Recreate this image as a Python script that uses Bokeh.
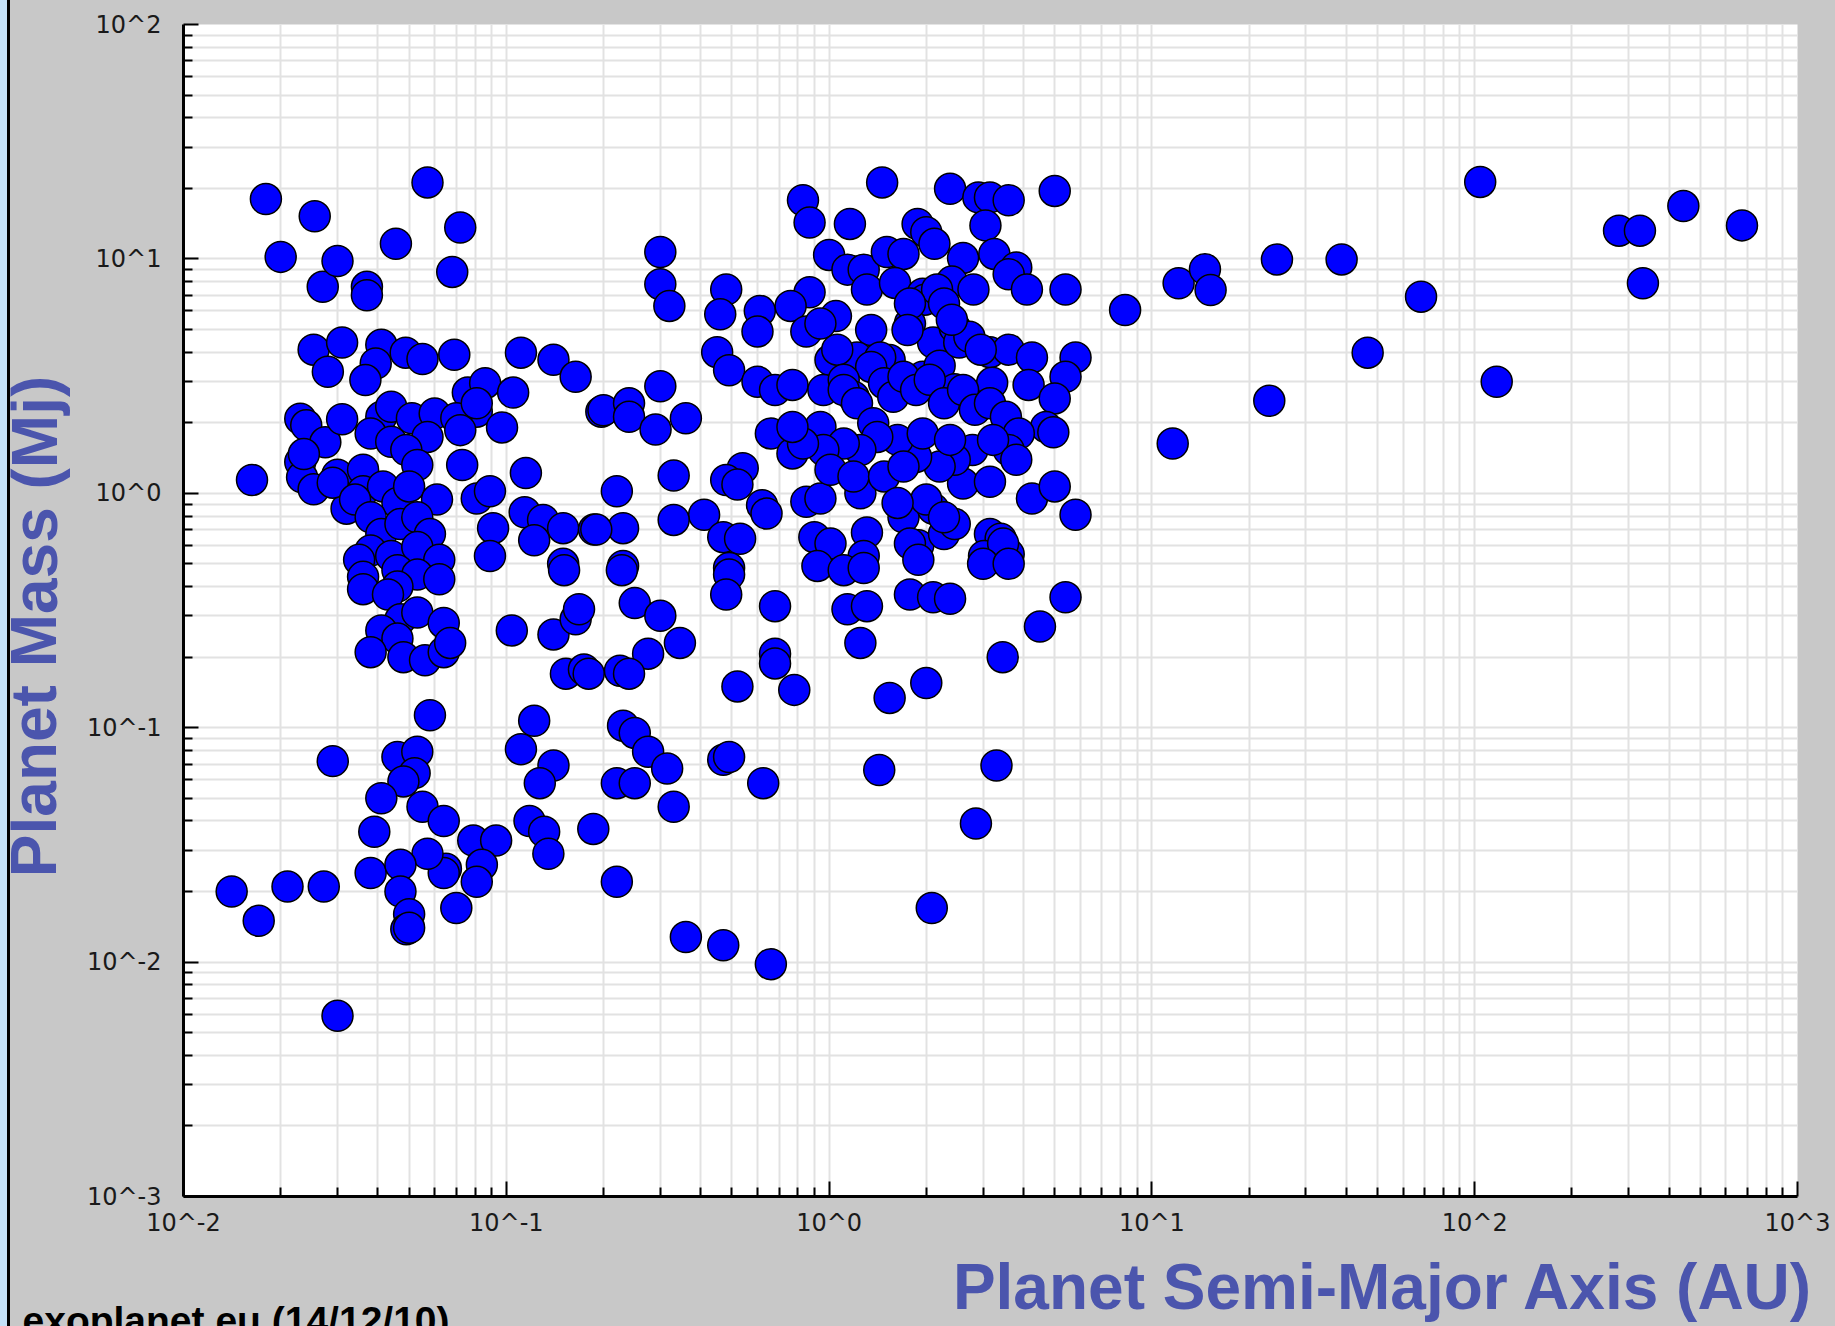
from bokeh.plotting import figure
from bokeh.models import Range1d, FixedTicker, CustomJSTickFormatter, Label, Div
from bokeh.layouts import row, column
from bokeh.embed import file_html
from bokeh.resources import INLINE

# ---- data (semi-major axis in AU, mass in Mj) ----
inner_a = [0.0141, 0.0171, 0.0163, 0.018, 0.020, 0.021, 0.0255, 0.0272, 0.030, 0.029,
           0.027, 0.030, 0.0253, 0.031, 0.028, 0.023, 0.024, 0.023, 0.0233, 0.0253,
           0.0275, 0.031, 0.030, 0.032, 0.029, 0.0236]
inner_m = [0.020, 0.015, 1.14, 18, 10.2, 0.021, 15.2, 0.021, 0.0059, 0.072,
           7.6, 9.8, 4.1, 4.4, 3.3, 2.08, 1.95, 1.36, 1.17, 1.04,
           1.65, 2.07, 1.2, 0.86, 1.11, 1.47]

hot_a = [0.057, 0.072, 0.0455, 0.068, 0.037, 0.037, 0.041, 0.0394, 0.0366, 0.0488,
         0.055, 0.069, 0.111, 0.140, 0.164, 0.197, 0.076, 0.086, 0.105, 0.081,
         0.097, 0.041, 0.044, 0.051, 0.060, 0.070, 0.072, 0.081, 0.038, 0.044,
         0.057, 0.049, 0.053, 0.036, 0.036, 0.0415, 0.046, 0.050, 0.073, 0.061,
         0.081, 0.089, 0.115, 0.091, 0.089, 0.114, 0.130, 0.150, 0.187, 0.122,
         0.150, 0.034, 0.038, 0.041, 0.047, 0.053, 0.058, 0.038, 0.044, 0.053,
         0.062, 0.035]
hot_m = [21.2, 13.6, 11.6, 8.8, 7.6, 7.0, 4.3, 3.58, 3.04, 3.98,
         3.74, 3.9, 3.98, 3.71, 3.14, 2.23, 2.69, 2.95, 2.69, 2.23,
         1.91, 2.12, 2.34, 2.09, 2.19, 2.09, 1.86, 2.42, 1.80, 1.66,
         1.74, 1.53, 1.32, 1.26, 1.02, 1.07, 0.91, 1.07, 1.32, 0.94,
         0.95, 1.02, 1.22, 0.71, 0.54, 0.83, 0.77, 0.71, 0.70, 0.63,
         0.50, 0.94, 0.79, 0.67, 0.74, 0.79, 0.67, 0.57, 0.54, 0.59,
         0.52, 0.52]

light_a = [0.036, 0.036, 0.046, 0.053, 0.046, 0.043, 0.062, 0.047, 0.053, 0.064,
           0.041, 0.046, 0.038, 0.048, 0.056, 0.064, 0.067, 0.151, 0.104, 0.140,
           0.164, 0.168, 0.153, 0.174, 0.058, 0.122, 0.046, 0.053, 0.052, 0.048,
           0.111, 0.140, 0.127, 0.041, 0.055, 0.064, 0.039, 0.118, 0.131, 0.135,
           0.186, 0.079, 0.093, 0.084, 0.081, 0.065, 0.064, 0.057, 0.038, 0.047,
           0.047, 0.050, 0.049, 0.050, 0.070]
light_m = [0.44, 0.39, 0.47, 0.45, 0.40, 0.37, 0.43, 0.29, 0.31, 0.28,
           0.26, 0.24, 0.21, 0.20, 0.194, 0.21, 0.23, 0.47, 0.26, 0.25,
           0.29, 0.32, 0.17, 0.177, 0.113, 0.107, 0.075, 0.079, 0.064, 0.059,
           0.081, 0.069, 0.058, 0.050, 0.046, 0.040, 0.036, 0.040, 0.036, 0.029,
           0.037, 0.033, 0.033, 0.026, 0.022, 0.025, 0.024, 0.029, 0.024, 0.026,
           0.020, 0.016, 0.0138, 0.014, 0.017]

mid_a = [0.30, 0.30, 0.32, 1.46, 0.83, 0.87, 1.16, 2.37, 2.9, 3.15,
         3.6, 5.0, 3.05, 1.88, 2.0, 2.12, 1.0, 1.14, 1.28, 1.51,
         1.7, 2.6, 3.25, 3.8, 3.6, 4.1, 5.4, 1.31, 1.6, 1.95,
         1.98, 2.4, 2.8, 1.35, 1.78, 2.1, 2.45, 0.48, 0.46, 0.61,
         0.60, 0.87, 0.76, 0.85, 1.05, 0.94, 0.45, 0.49, 0.60, 0.68,
         0.77, 1.01, 1.22, 1.54, 1.95, 2.2, 2.45, 3.15, 3.6, 4.25,
         5.8, 5.4, 3.2, 4.15, 5.0, 4.7, 4.95, 0.20, 0.24, 0.24,
         0.30, 0.29, 0.36, 0.66, 0.77, 0.33, 0.22, 0.54, 0.48, 0.52,
         0.62, 0.64, 0.41, 0.33, 0.47, 0.53, 0.23, 0.19, 0.23, 0.49,
         0.85, 0.94, 1.25, 0.90, 1.01, 1.31, 1.28, 1.7, 1.89, 2.1,
         2.27, 2.45, 3.15, 3.4, 3.02, 3.6, 4.25, 5.0, 5.8, 2.6,
         3.15, 2.53, 2.72, 2.95, 2.16, 2.27, 2.4, 1.78, 1.75, 1.44,
         1.35, 1.06, 0.96, 1.11, 1.19]
mid_m = [10.7, 7.8, 6.3, 21.2, 17.8, 14.3, 14.1, 19.9, 18.3, 18.3,
         17.8, 19.5, 13.9, 14.1, 13.0, 11.6, 10.4, 9.0, 9.0, 10.7,
         10.5, 10.1, 10.5, 9.2, 8.6, 7.4, 7.4, 7.4, 7.9, 7.1,
         6.7, 8.0, 7.4, 4.97, 5.3, 4.4, 5.1, 7.4, 5.8, 6.0,
         4.9, 7.2, 6.3, 4.9, 5.7, 5.3, 4.0, 3.35, 2.99, 2.76,
         2.9, 3.7, 3.8, 3.7, 3.14, 3.5, 2.78, 4.0, 4.1, 3.8,
         3.8, 3.14, 2.96, 2.9, 2.54, 1.92, 1.82, 2.26, 2.42, 2.12,
         2.86, 1.87, 2.09, 1.80, 1.48, 1.19, 1.02, 1.28, 1.14, 1.09,
         0.89, 0.82, 0.81, 0.77, 0.65, 0.64, 0.71, 0.70, 0.49, 0.48,
         0.92, 0.95, 1.0, 0.65, 0.61, 0.68, 0.54, 0.79, 0.60, 0.86,
         0.67, 0.74, 0.67, 0.64, 0.54, 0.55, 0.95, 1.07, 0.81, 1.10,
         1.12, 4.4, 4.65, 4.1, 7.4, 6.45, 5.5, 6.45, 4.97, 3.8,
         3.46, 4.1, 2.76, 3.05, 2.58]

core_a = [0.94, 1.11, 1.22, 1.37, 1.48, 1.58, 1.70, 1.86, 2.05, 2.27,
          2.6, 2.83, 3.15, 3.53, 3.87, 3.6, 2.78, 2.45, 2.2, 1.86,
          1.63, 1.41, 1.25, 1.11, 0.96, 0.83, 0.77, 1.01, 1.19, 1.48,
          1.70, 1.95, 2.37, 3.22, 3.8, 2.0, 2.27, 1.63, 1.78, 3.46]
core_m = [1.92, 2.76, 2.42, 1.99, 2.95, 2.58, 3.14, 2.76, 3.05, 2.42,
          2.76, 2.27, 2.42, 2.12, 1.80, 1.53, 1.53, 1.39, 1.30, 1.43,
          1.69, 1.74, 1.53, 1.63, 1.53, 1.63, 1.92, 1.26, 1.18, 1.18,
          1.30, 1.80, 1.69, 1.69, 1.39, 0.94, 0.79, 0.91, 0.61, 0.61]

low_a = [0.228, 0.25, 0.30, 0.345, 0.275, 0.225, 0.24, 0.18, 0.49, 0.48,
         0.68, 0.68, 0.68, 0.52, 0.78, 0.92, 1.11, 1.28, 1.89, 3.0,
         3.6, 1.14, 1.31, 1.78, 2.1, 2.37, 1.25, 5.4, 4.5, 3.45,
         2.0, 1.54, 0.23, 0.25, 0.275, 0.315, 0.22, 0.25, 0.33,
         0.47, 0.49, 0.625, 1.43, 3.3, 2.85, 0.22, 0.36, 0.47, 0.66,
         2.08]
low_m = [0.47, 0.34, 0.30, 0.23, 0.207, 0.175, 0.17, 0.17, 0.45, 0.37,
         0.33, 0.207, 0.188, 0.15, 0.145, 0.49, 0.47, 0.48, 0.52, 0.50,
         0.50, 0.32, 0.33, 0.37, 0.36, 0.355, 0.23, 0.36, 0.27, 0.20,
         0.155, 0.134, 0.102, 0.095, 0.079, 0.067, 0.058, 0.058, 0.046,
         0.073, 0.075, 0.058, 0.066, 0.069, 0.039, 0.022, 0.0128, 0.0118, 0.0098,
         0.017]

outer_a = [8.26, 12.1, 14.6, 15.2, 24.4, 38.7, 68.2, 46.6, 23.1, 11.6,
           104, 117, 280, 325, 443, 673, 332]
outer_m = [6.05, 7.87, 9.03, 7.37, 9.95, 9.95, 6.9, 3.98, 2.48, 1.63,
           21.3, 2.99, 13.2, 13.2, 16.8, 13.9, 7.87]

x_tick_values = [1e-2, 1e-1, 1e0, 1e1, 1e2, 1e3]
y_tick_values = [1e-3, 1e-2, 1e-1, 1e0, 1e1, 1e2]

x_title = "Planet Semi-Major Axis (AU)"
y_title = "Planet Mass (Mj)"
footer = "exoplanet.eu (14/12/10)"

semi_major_axis = inner_a + hot_a + light_a + mid_a + core_a + low_a + outer_a
planet_mass = inner_m + hot_m + light_m + mid_m + core_m + low_m + outer_m


def minor_between(ticks):
    out = []
    for t in ticks[:-1]:
        out += [k * t for k in range(2, 10)]
    return out


BG = "#c8c8c8"
LABEL_BLUE = "#4b55ad"
PAGE_H = 1326
STRIP_W, EDGE_W = 7, 3
LEFT_W = 72                # panel holding the rotated y title
MAIN_H = 1250              # main figure height
MAIN_W = 1835 - STRIP_W - EDGE_W - LEFT_W
BOTTOM_H = PAGE_H - MAIN_H
BOTTOM_W = 1835 - STRIP_W - EDGE_W
FRAME_LEFT_PAGE = 183

# ---------------- main plot ----------------
p = figure(width=MAIN_W, height=MAIN_H, x_axis_type="log", y_axis_type="log",
           x_range=Range1d(x_tick_values[0], x_tick_values[-1]),
           y_range=Range1d(y_tick_values[0], y_tick_values[-1]),
           output_backend="svg", toolbar_location=None,
           min_border_left=FRAME_LEFT_PAGE - STRIP_W - EDGE_W - LEFT_W,
           min_border_right=38, min_border_top=24, min_border_bottom=54)
p.background_fill_color = "white"
p.border_fill_color = BG
p.outline_line_color = None

p.xaxis.ticker = FixedTicker(ticks=x_tick_values, minor_ticks=minor_between(x_tick_values))
p.yaxis.ticker = FixedTicker(ticks=y_tick_values, minor_ticks=minor_between(y_tick_values))
fmt = CustomJSTickFormatter(code="return '10^' + Math.round(Math.log10(tick)).toString();")
p.xaxis.formatter = fmt
p.yaxis.formatter = fmt

for ax in (p.xaxis, p.yaxis):
    ax.axis_line_color = "black"
    ax.axis_line_width = 3
    ax.major_tick_line_color = "black"
    ax.major_tick_line_width = 2
    ax.minor_tick_line_color = "black"
    ax.minor_tick_line_width = 2
    ax.major_tick_in = 15
    ax.major_tick_out = 0
    ax.minor_tick_in = 9
    ax.minor_tick_out = 0
    ax.major_label_text_font = "DejaVu Sans"
    ax.major_label_text_font_size = "24px"
    ax.major_label_text_color = "#1a1a1a"
p.yaxis.major_label_standoff = 22
p.xaxis.major_label_standoff = 12

for g in (p.xgrid, p.ygrid):
    g.grid_line_color = "#e2e2e2"
    g.grid_line_width = 2
    g.minor_grid_line_color = "#e2e2e2"
    g.minor_grid_line_width = 2

p.scatter(semi_major_axis, planet_mass, size=31, fill_color="#0000ff",
          line_color="black", line_width=1.5)


def text_panel(w, h):
    f = figure(width=w, height=h, x_range=Range1d(0, w), y_range=Range1d(0, h),
               output_backend="svg", toolbar_location=None,
               x_axis_location=None, y_axis_location=None, min_border=0)
    f.background_fill_color = BG
    f.border_fill_color = BG
    f.outline_line_color = None
    f.grid.visible = False
    return f


# ---------------- left panel: y title ----------------
lp = text_panel(LEFT_W, MAIN_H)
lp.add_layout(Label(x=24, y=MAIN_H - 642, text=y_title, angle=1.5707963,
                    text_align="center", text_baseline="alphabetic",
                    text_font="Liberation Sans", text_font_style="bold",
                    text_font_size="64px", text_color=LABEL_BLUE))

# ---------------- bottom panel: x title + footer ----------------
bp = text_panel(BOTTOM_W, BOTTOM_H)
bp.add_layout(Label(x=1803, y=40, text=x_title, text_align="right",
                    text_baseline="alphabetic", text_font="Liberation Sans",
                    text_font_style="bold", text_font_size="64px",
                    text_color=LABEL_BLUE))
bp.add_layout(Label(x=12, y=6, text=footer, text_align="left",
                    text_baseline="alphabetic", text_font="Liberation Sans",
                    text_font_style="bold", text_font_size="39px",
                    text_color="black"))

strip = Div(width=STRIP_W, height=PAGE_H, margin=0, styles={"background-color": "#c4e1f8"})
edge = Div(width=EDGE_W, height=PAGE_H, margin=0, styles={"background-color": "black"})
gray = {"background-color": BG}
layout = row(strip, edge,
             column(row(lp, p, spacing=0, styles=gray), bp, spacing=0, styles=gray),
             spacing=0, styles=gray)

open("out.html", "w").write(file_html(layout, INLINE))
